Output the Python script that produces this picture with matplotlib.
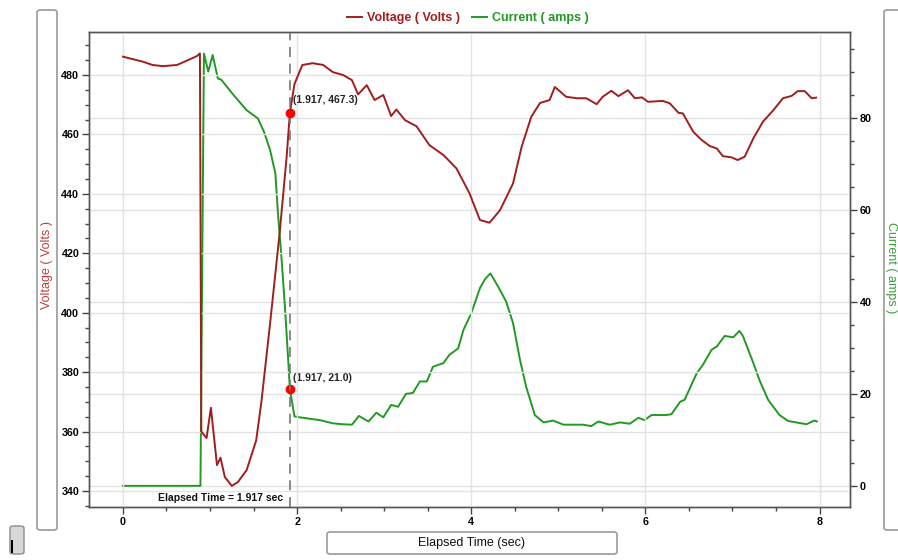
import matplotlib
matplotlib.use("Agg")
import matplotlib.pyplot as plt
from matplotlib.patches import FancyBboxPatch, Rectangle
from matplotlib.ticker import MultipleLocator

# Voltage trace (sec, volts)
volt_t = [0, 0.23, 0.34, 0.46, 0.62, 0.73, 0.85, 0.884, 0.90, 0.96, 1.01, 1.08, 1.12, 1.17,
          1.25, 1.32, 1.42, 1.53, 1.59, 1.69, 1.80, 1.88, 1.917, 1.97, 2.06, 2.18, 2.30, 2.41,
          2.53, 2.63, 2.70, 2.80, 2.89, 2.99, 3.08, 3.14, 3.24, 3.37, 3.52, 3.68, 3.83, 3.98,
          4.10, 4.21, 4.33, 4.48, 4.58, 4.69, 4.79, 4.90, 4.96, 5.09, 5.21, 5.32, 5.44, 5.51,
          5.61, 5.69, 5.80, 5.88, 5.96, 6.03, 6.20, 6.28, 6.38, 6.43, 6.55, 6.64, 6.74, 6.82,
          6.89, 6.99, 7.06, 7.14, 7.24, 7.35, 7.47, 7.58, 7.68, 7.75, 7.83, 7.91, 7.96]
volt_v = [486.2, 484.5, 483.4, 483.0, 483.4, 484.8, 486.4, 487.3, 360, 357.8, 368, 348.7, 351.2, 344.7,
          341.7, 343, 347, 357, 370, 396.5, 427, 452.5, 467.3, 477, 483.4, 484, 483.4, 481,
          480, 478.3, 473.5, 476.6, 471.6, 473.3, 466.2, 468.4, 464.8, 462.8, 456.4, 453.1, 448.6, 440.2,
          431.2, 430.3, 434.5, 443.5, 456, 466, 470.6, 471.6, 476, 472.7, 472.2, 472.2, 470.2, 472.7,
          474.7, 472.9, 474.9, 472.2, 472.5, 471, 471.3, 470.5, 467.3, 467.1, 460.9, 458.3, 456.1, 455.3,
          452.7, 452.3, 451.4, 452.5, 458.7, 464.3, 468.2, 472.2, 473, 474.6, 474.6, 472.2, 472.4]

# Current trace (sec, amps)
curr_t = [0, 0.89, 0.93, 0.98, 1.03, 1.09, 1.13, 1.27, 1.42, 1.55, 1.62, 1.69, 1.75, 1.78, 1.82,
          1.86, 1.90, 1.917, 1.97, 2.03, 2.11, 2.18, 2.26, 2.41, 2.52, 2.63, 2.71, 2.82, 2.91, 2.99,
          3.08, 3.16, 3.25, 3.33, 3.41, 3.49, 3.56, 3.68, 3.75, 3.85, 3.91, 4.00, 4.10, 4.16, 4.22,
          4.31, 4.40, 4.48, 4.56, 4.63, 4.73, 4.83, 4.94, 5.06, 5.17, 5.28, 5.38, 5.46, 5.59, 5.71,
          5.82, 5.92, 5.99, 6.07, 6.24, 6.30, 6.40, 6.45, 6.59, 6.66, 6.76, 6.82, 6.91, 7.01, 7.08,
          7.12, 7.24, 7.31, 7.41, 7.54, 7.64, 7.73, 7.85, 7.94, 7.97]
curr_a = [0, 0, 94, 90.1, 93.7, 88.6, 88.3, 85, 81.7, 79.9, 77, 73, 68, 59.3, 49.8,
          39, 26.7, 21.0, 15.1, 14.9, 14.7, 14.5, 14.3, 13.6, 13.4, 13.3, 15.2, 14, 15.9, 14.9,
          17.6, 17.2, 20, 20.2, 22.7, 22.7, 25.9, 26.7, 28.5, 29.9, 33.9, 37.5, 43, 45, 46.2,
          43.3, 40.1, 35.4, 27.4, 21.6, 15.4, 13.8, 14.2, 13.3, 13.3, 13.3, 13, 14, 13.3, 13.8,
          13.5, 14.8, 14.3, 15.4, 15.4, 15.6, 18.3, 18.7, 24.5, 26.3, 29.6, 30.3, 32.6, 32.3, 33.7,
          32.6, 26.7, 23, 18.7, 15.4, 14.1, 13.8, 13.4, 14.2, 14.0]

cursor_t = 1.917
cursor_v = 467.3
cursor_a = 21.0

volt_color = "#a01e1e"
curr_color = "#229922"

plt.rcParams["font.family"] = ["Liberation Sans", "DejaVu Sans"]

fig = plt.figure(figsize=(8.98, 5.60), dpi=100)
fig.patch.set_facecolor("white")

ax = fig.add_axes([89 / 898, 1 - 507 / 560, (850 - 89) / 898, (507 - 32) / 560])
ax2 = ax.twinx()
# current axis behind, voltage axis in front
ax2.set_zorder(1)
ax.set_zorder(2)
ax.patch.set_visible(False)
ax2.patch.set_facecolor("#fafafa")

ax.set_xlim(-0.39, 8.35)
ax.set_ylim(334.6, 494.5)
ax2.set_ylim(-4.6, 98.7)

ax.xaxis.set_major_locator(MultipleLocator(2))
ax.xaxis.set_minor_locator(MultipleLocator(0.5))
ax.yaxis.set_major_locator(MultipleLocator(20))
ax.yaxis.set_minor_locator(MultipleLocator(5))
ax2.yaxis.set_major_locator(MultipleLocator(20))
ax2.yaxis.set_minor_locator(MultipleLocator(5))

grid_kw = dict(color="#e2e2e2", linewidth=1.0)
ax.grid(True, which="major", axis="both", **grid_kw)
ax2.grid(True, which="major", axis="y", **grid_kw)

for a in (ax, ax2):
    a.tick_params(which="major", direction="out", length=5, width=1, color="#444444",
                  labelsize=7.7, pad=2)
    a.tick_params(which="minor", direction="out", length=3, width=1, color="#444444")
    for s in a.spines.values():
        s.set_color("#555555")
        s.set_linewidth(1)
    for lbl in a.get_xticklabels() + a.get_yticklabels():
        lbl.set_fontweight("bold")

ax2.tick_params(axis="y", which="both", left=False, right=True)

lv, = ax.plot(volt_t, volt_v, color=volt_color, linewidth=1.4, label="Voltage ( Volts )")
lc, = ax2.plot(curr_t, curr_a, color=curr_color, linewidth=1.4, label="Current ( amps )")

# cursor
ax.axvline(cursor_t, color="#777777", linestyle=(0, (6, 4)), linewidth=1.2)
ax.plot([cursor_t], [cursor_v], "o", color="red", markersize=6, zorder=5)
ax2.plot([cursor_t], [cursor_a], "o", color="red", markersize=6, zorder=5)
ax.annotate(f"({cursor_t}, {cursor_v})", xy=(cursor_t, cursor_v), xytext=(2, 9),
            textcoords="offset points", ha="left", va="center", fontsize=7.5,
            fontweight="bold", color="#222222")
ax2.annotate(f"({cursor_t}, {cursor_a})", xy=(cursor_t, cursor_a), xytext=(2, 8),
             textcoords="offset points", ha="left", va="center", fontsize=7.5,
             fontweight="bold", color="#222222")
ax.annotate(f"Elapsed Time = {cursor_t} sec", xy=(cursor_t, 0),
            xycoords=("data", "axes fraction"), xytext=(-5, 6.5), textcoords="offset points",
            ha="right", va="center", fontsize=7.5, fontweight="bold", color="#111111")

fig.legend(handles=[lv, lc], loc="center", bbox_to_anchor=(0.521, 1 - 18 / 560), ncol=2,
           frameon=False, labelcolor="linecolor", handlelength=1.2, handletextpad=0.4,
           columnspacing=1.0, prop={"weight": "bold", "size": 9})


def fig_box(x0, y0, x1, y1):
    # box given in pixel coords measured from top-left
    box = FancyBboxPatch((x0 / 898, 1 - y1 / 560), (x1 - x0) / 898, (y1 - y0) / 560,
                         boxstyle="round,pad=0,rounding_size=0.004",
                         transform=fig.transFigure, facecolor="white",
                         edgecolor="#9a9a9a", linewidth=1.2)
    fig.patches.append(box)


fig_box(37, 10, 57, 530)
fig_box(884, 10, 904, 530)
fig_box(327, 532, 617, 554)

fig.text(47 / 898, 1 - 265 / 560, "Voltage ( Volts )", rotation=90, ha="center", va="center",
         fontsize=9, color="#b84040")
fig.text(891 / 898, 1 - 268 / 560, "Current ( amps )", rotation=-90, ha="center", va="center",
         fontsize=9, color="#3a9e3a")
fig.text(472 / 898, 1 - 543 / 560, "Elapsed Time (sec)", ha="center", va="center",
         fontsize=9, color="#111111")

# small button bottom-left
btn = FancyBboxPatch((10 / 898, 1 - 554 / 560), 14 / 898, 28 / 560,
                     boxstyle="round,pad=0,rounding_size=0.004", transform=fig.transFigure,
                     facecolor="#d8d8d8", edgecolor="#8a8a8a", linewidth=1.0)
fig.patches.append(btn)
fig.patches.append(Rectangle((10.5 / 898, 1 - 553 / 560), 2.5 / 898, 13 / 560,
                             transform=fig.transFigure, facecolor="black", edgecolor="none"))

fig.savefig("out.png", dpi=100)
